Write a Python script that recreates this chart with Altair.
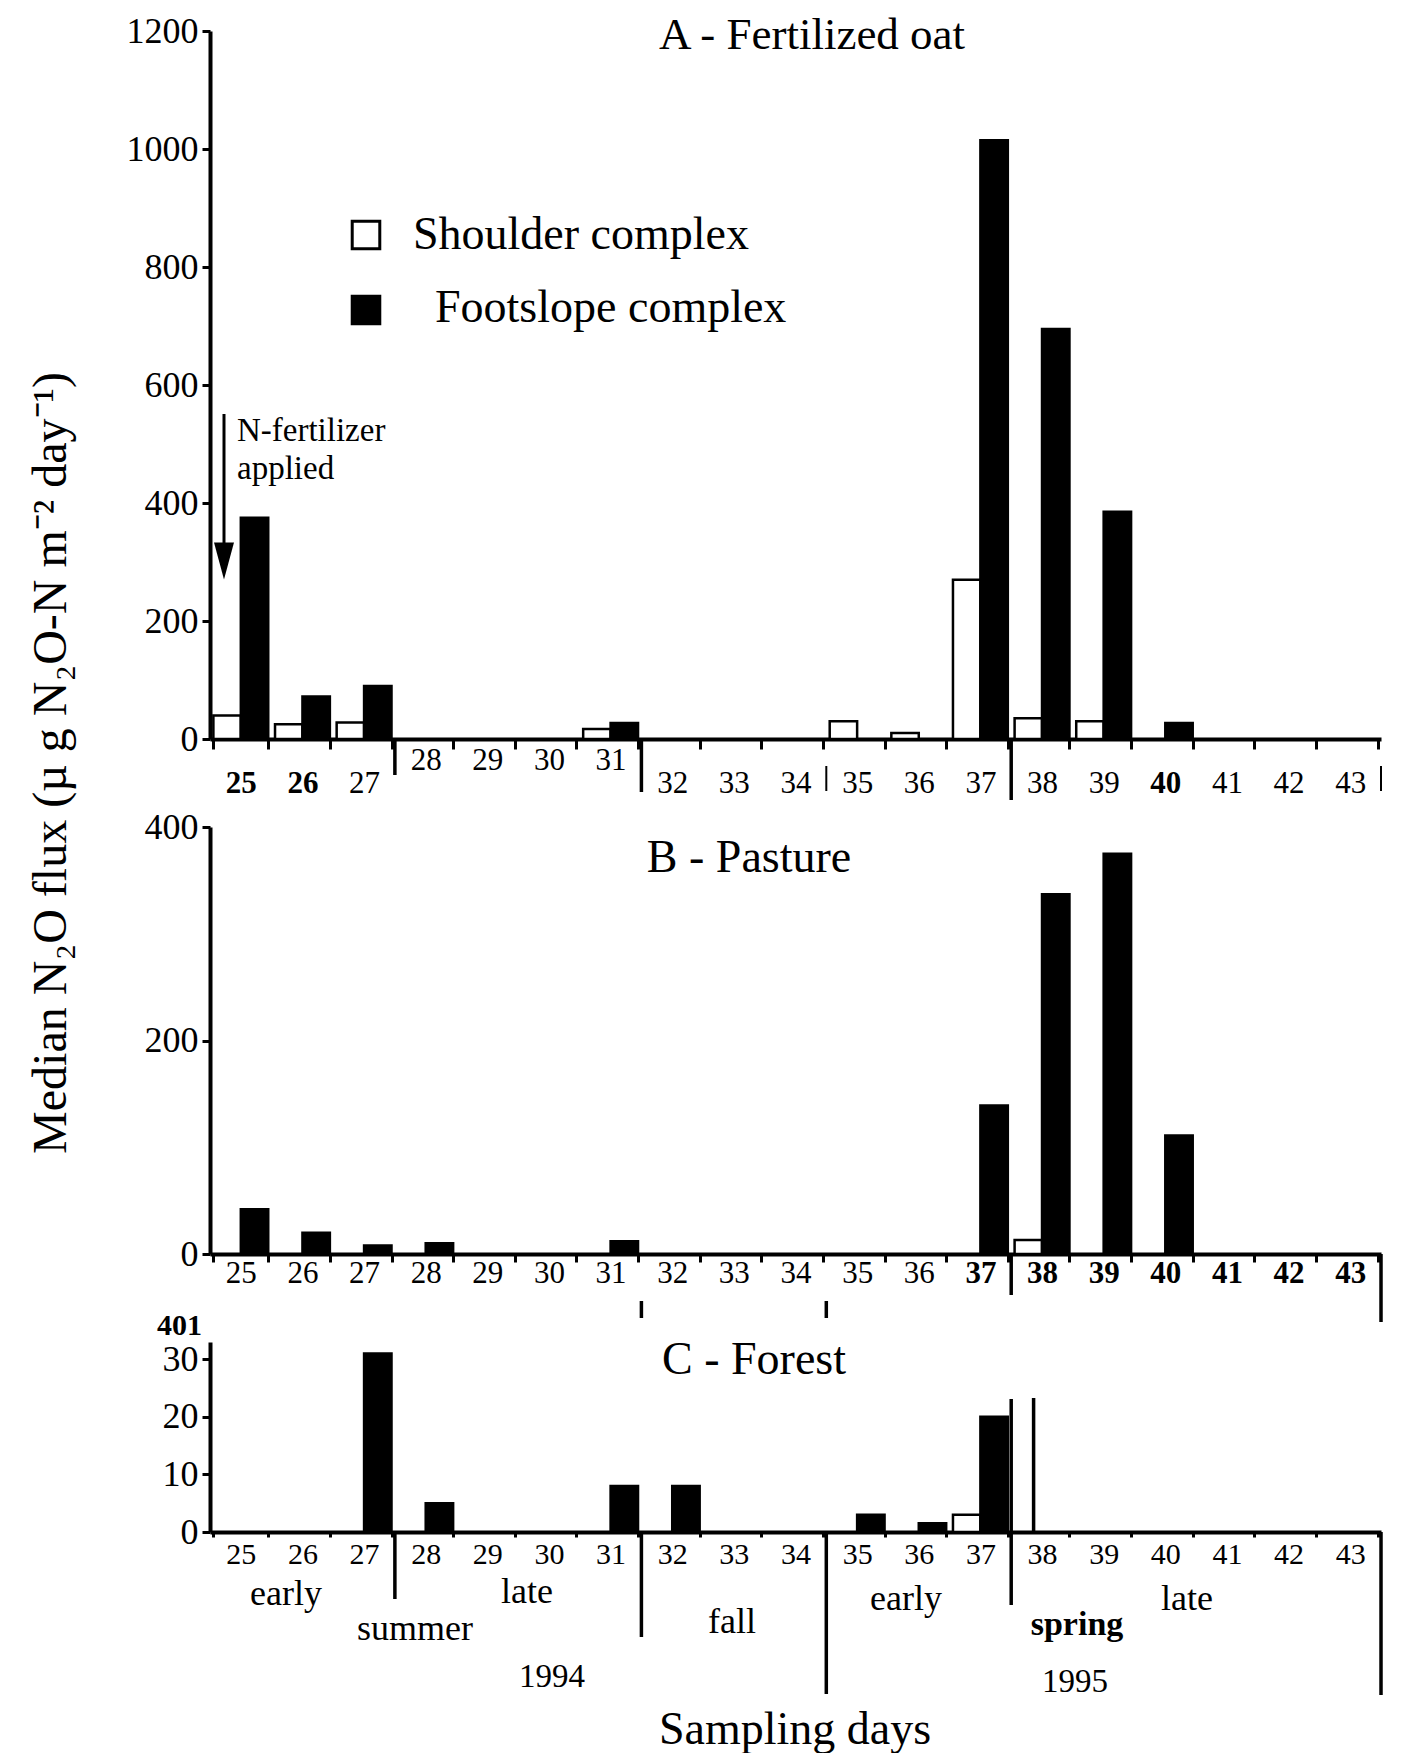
import altair as alt
import pandas as pd

FONT = "Liberation Serif"

days = ["25", "26", "27", "28", "29", "30", "31", "32", "33", "34",
        "35", "36", "37", "38", "39", "40", "41", "42", "43"]
sites = ["Shoulder complex", "Footslope complex"]

# Panel A - Fertilized oat
oat_shoulder = [40, 25, 28, 0, 0, 0, 17, 0, 0, 0, 30, 10, 270, 35, 30, 0, 0, 0, 0]
oat_footslope = [375, 72, 90, 0, 0, 0, 27, 0, 0, 0, 0, 0, 1015, 695, 385, 27, 0, 0, 0]
# Panel B - Pasture
pasture_shoulder = [0, 0, 0, 0, 0, 0, 0, 0, 0, 0, 0, 0, 0, 13, 0, 0, 0, 0, 0]
pasture_footslope = [42, 20, 8, 10, 0, 0, 12, 0, 0, 0, 0, 0, 139, 337, 375, 111, 0, 0, 0]
# Panel C - Forest
forest_shoulder = [0, 0, 0, 0, 0, 0, 0, 0, 0, 0, 0, 0, 3, 0, 0, 0, 0, 0, 0]
forest_footslope = [0, 0, 31, 5, 0, 0, 8, 8, 0, 0, 3, 1.5, 20, 0, 0, 0, 0, 0, 0]

yticks_a = [0, 200, 400, 600, 800, 1000, 1200]
yticks_b = [0, 200, 400]
yticks_c = [0, 10, 20, 30]

W = 1171
HA, HB, HC = 708, 427, 190
GAP = 6.8 / 2


def long_df(shoulder, foot):
    rows = []
    for d, s, f in zip(days, shoulder, foot):
        rows.append({"day": d, "site": sites[0], "value": s})
        rows.append({"day": d, "site": sites[1], "value": f})
    return pd.DataFrame(rows)


def xenc(axis, band=0.5):
    return alt.X("day:O", sort=days, title=None, axis=axis,
                 scale=alt.Scale(domain=days, paddingInner=0.11, paddingOuter=0.055),
                 bandPosition=band)


def bars(df, ymax, yvals, xaxis):
    return alt.Chart(df).transform_filter("datum.value > 0").mark_bar(
        stroke="black", strokeWidth=2.5
    ).encode(
        x=xenc(xaxis),
        xOffset=alt.XOffset("site:N", sort=sites,
                            scale=alt.Scale(domain=sites, paddingInner=0, paddingOuter=0)),
        y=alt.Y("value:Q", title=None,
                scale=alt.Scale(domain=[0, ymax], nice=False, zero=True),
                axis=alt.Axis(values=yvals, format="d", labelFontSize=36, tickSize=8,
                              tickWidth=3, labelPadding=4, domainWidth=4, grid=False,
                              labelFont=FONT, labelColor="black", tickColor="black",
                              domainColor="black")),
        fill=alt.Fill("site:N", scale=alt.Scale(domain=sites, range=["white", "black"]),
                      legend=None),
    )


def sep(day, y0, y1, axis, band=0, offset=-GAP, width=3.5):
    return alt.Chart(pd.DataFrame({"day": [day]})).mark_rule(
        color="black", strokeWidth=width, xOffset=offset
    ).encode(x=xenc(axis, band), y=alt.value(y0), y2=alt.value(y1))


def label(txt, x, y, size, align="center", weight="normal", angle=0):
    return alt.Chart(pd.DataFrame({"label": [txt]})).mark_text(
        font=FONT, fontSize=size, align=align, baseline="middle",
        fontWeight=weight, angle=angle, color="black"
    ).encode(text="label:N", x=alt.value(x), y=alt.value(y))


def square(x, y, fill):
    return alt.Chart(pd.DataFrame({"a": [1]})).mark_point(
        shape="square", size=760, filled=True, fill=fill, stroke="black",
        strokeWidth=3, opacity=1
    ).encode(x=alt.value(x), y=alt.value(y))


# ---------- Panel A ----------
xaxis_a = alt.Axis(labelFontSize=31, labelAngle=0, labelFont=FONT, labelColor="black",
                   tickBand="extent", tickSize=10, tickWidth=3, tickColor="black",
                   domainWidth=4, domainColor="black", grid=False,
                   labelFontWeight={"condition": {"test": "indexof(['25','26','40'], datum.value) >= 0",
                                                  "value": "bold"}, "value": "normal"},
                   labelPadding={"condition": {"test": "indexof(['28','29','30','31'], datum.value) >= 0",
                                               "value": -4}, "value": 19})
arrow_shaft = alt.Chart(pd.DataFrame({"a": [1]})).mark_rule(color="black", strokeWidth=3).encode(
    x=alt.value(14), y=alt.value(383), y2=alt.value(520))
arrow_head = alt.Chart(pd.DataFrame({"a": [1]})).mark_point(
    shape="M-0.54,-1L0.54,-1L0,1Z", size=1369, filled=True, color="black", opacity=1
).encode(x=alt.value(14), y=alt.value(530))

panel_a = alt.layer(
    bars(long_df(oat_shoulder, oat_footslope), 1200, yticks_a, xaxis_a),
    sep("28", HA, HA + 36, xaxis_a),
    sep("32", HA, HA + 53, xaxis_a),
    sep("38", HA, HA + 61, xaxis_a),
    sep("35", HA + 27, HA + 52, xaxis_a, width=2),
    sep("43", HA + 27, HA + 52, xaxis_a, band=1, offset=GAP, width=2),
    label("A - Fertilized oat", 602, 4, 45),
    square(156, 204, "white"),
    square(156, 279, "black"),
    label("Shoulder complex", 203, 204, 46, align="left"),
    label("Footslope complex", 225, 277, 46, align="left"),
    label("N-fertilizer", 27, 400, 33, align="left"),
    label("applied", 27, 438, 33, align="left"),
    arrow_shaft, arrow_head,
    label("Median N\u2082O flux (\u00b5 g N\u2082O-N m\u207b\u00b2 day\u207b\u00b9)", -158, 732, 48, angle=270),
).properties(width=W, height=HA)

# ---------- Panel B ----------
xaxis_b = alt.Axis(labelFontSize=31, labelAngle=0, labelFont=FONT, labelColor="black",
                   tickBand="extent", tickSize=8, tickWidth=3, tickColor="black",
                   domainWidth=4, domainColor="black", labelPadding=-4, grid=False,
                   labelFontWeight={"condition": {"test": "toNumber(datum.value) >= 37",
                                                  "value": "bold"}, "value": "normal"})
panel_b = alt.layer(
    bars(long_df(pasture_shoulder, pasture_footslope), 400, yticks_b, xaxis_b),
    sep("38", HB, HB + 41, xaxis_b),
    sep("43", HB, HB + 68, xaxis_b, band=1, offset=GAP),
    sep("32", HB + 47, HB + 64, xaxis_b),
    sep("35", HB + 47, HB + 64, xaxis_b),
    label("B - Pasture", 539, 31, 46),
).properties(width=W, height=HB)

# ---------- Panel C ----------
xaxis_c = alt.Axis(labelFontSize=30, labelAngle=0, labelFont=FONT, labelColor="black",
                   tickBand="extent", tickSize=5, tickWidth=3, tickColor="black",
                   domainWidth=4, domainColor="black", labelPadding=2, grid=False)
panel_c = alt.layer(
    bars(long_df(forest_shoulder, forest_footslope), 33, yticks_c, xaxis_c),
    sep("28", HC, HC + 67, xaxis_c),
    sep("32", HC, HC + 105, xaxis_c),
    sep("35", HC, HC + 162, xaxis_c),
    sep("38", 57, HC + 73, xaxis_c),
    sep("38", 56, HC, xaxis_c, offset=19),
    sep("43", HC, HC + 163, xaxis_c, band=1, offset=GAP),
    label("C - Forest", 544, 18, 46),
    label("401", -8, -16, 30, align="right", weight="bold"),
    label("early", 76, 252, 36),
    label("summer", 205, 287, 36),
    label("late", 317, 250, 36),
    label("fall", 522, 280, 36),
    label("1994", 342, 335, 33),
    label("early", 696, 257, 36),
    label("late", 977, 257, 36),
    label("spring", 867, 283, 34, weight="bold"),
    label("1995", 865, 340, 33),
    label("Sampling days", 585, 388, 46),
).properties(width=W, height=HC)

chart = alt.vconcat(panel_a, panel_b, panel_c, spacing=88, bounds="flush").properties(
    padding={"left": 20, "top": 5, "right": 10, "bottom": 0}
).configure(font=FONT).configure_view(strokeWidth=0)

chart.save("out.html", embed_options={"renderer": "svg", "actions": False})
